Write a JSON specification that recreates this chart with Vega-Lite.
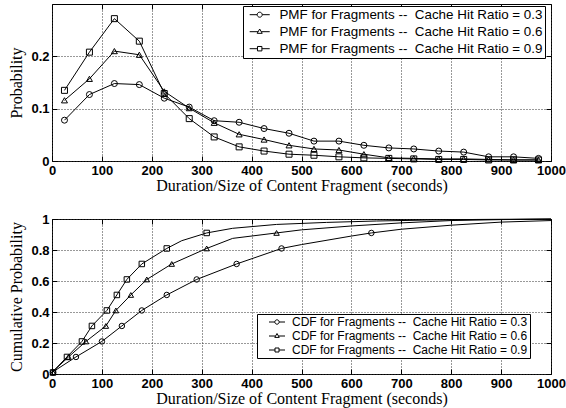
{
  "$schema": "https://vega.github.io/schema/vega-lite/v6.json",
  "padding": {"left": 8, "top": 3, "right": 4, "bottom": 2},
  "background": "white",
  "spacing": 18,
  "resolve": {"scale": {"shape": "independent"}, "legend": {"shape": "independent"}},
  "config": {
    "view": {"stroke": "black", "strokeWidth": 1},
    "axis": {
      "domain": false, "grid": true, "gridColor": "#333", "gridDash": [1, 2], "gridWidth": 1,
      "ticks": true, "tickColor": "black", "tickSize": -5, "tickWidth": 1,
      "labelFont": "Liberation Sans", "labelFontSize": 13, "labelFontWeight": "bold", "labelColor": "black",
      "labelPadding": 8, "labelFlush": false, "labelOverlap": false,
      "titleFont": "Liberation Serif", "titleFontSize": 16, "titleFontWeight": "normal", "titleColor": "black"
    },
    "axisX": {"titlePadding": 0},
    "axisY": {"titlePadding": 6},
    "legend": {
      "orient": "none", "title": null, "labelFont": "Liberation Sans", "labelColor": "black", "labelLimit": 0,
      "strokeColor": "black", "fillColor": "white", "padding": 2, "rowPadding": 2
    }
  },
  "datasets": {
    "pmf": [
      {"x": 25, "p": 0.078, "ratio": "0.3"}, {"x": 75, "p": 0.127, "ratio": "0.3"}, {"x": 125, "p": 0.148, "ratio": "0.3"}, {"x": 175, "p": 0.146, "ratio": "0.3"},
      {"x": 225, "p": 0.120, "ratio": "0.3"}, {"x": 275, "p": 0.103, "ratio": "0.3"}, {"x": 325, "p": 0.077, "ratio": "0.3"}, {"x": 375, "p": 0.074, "ratio": "0.3"},
      {"x": 425, "p": 0.062, "ratio": "0.3"}, {"x": 475, "p": 0.053, "ratio": "0.3"}, {"x": 525, "p": 0.038, "ratio": "0.3"}, {"x": 575, "p": 0.038, "ratio": "0.3"},
      {"x": 625, "p": 0.030, "ratio": "0.3"}, {"x": 675, "p": 0.025, "ratio": "0.3"}, {"x": 725, "p": 0.023, "ratio": "0.3"}, {"x": 775, "p": 0.019, "ratio": "0.3"},
      {"x": 825, "p": 0.017, "ratio": "0.3"}, {"x": 875, "p": 0.008, "ratio": "0.3"}, {"x": 925, "p": 0.008, "ratio": "0.3"}, {"x": 975, "p": 0.005, "ratio": "0.3"},
      {"x": 25, "p": 0.116, "ratio": "0.6"}, {"x": 75, "p": 0.157, "ratio": "0.6"}, {"x": 125, "p": 0.210, "ratio": "0.6"}, {"x": 175, "p": 0.203, "ratio": "0.6"},
      {"x": 225, "p": 0.133, "ratio": "0.6"}, {"x": 275, "p": 0.101, "ratio": "0.6"}, {"x": 325, "p": 0.073, "ratio": "0.6"}, {"x": 375, "p": 0.051, "ratio": "0.6"},
      {"x": 425, "p": 0.041, "ratio": "0.6"}, {"x": 475, "p": 0.030, "ratio": "0.6"}, {"x": 525, "p": 0.023, "ratio": "0.6"}, {"x": 575, "p": 0.021, "ratio": "0.6"},
      {"x": 625, "p": 0.013, "ratio": "0.6"}, {"x": 675, "p": 0.006, "ratio": "0.6"}, {"x": 725, "p": 0.005, "ratio": "0.6"}, {"x": 775, "p": 0.004, "ratio": "0.6"},
      {"x": 825, "p": 0.004, "ratio": "0.6"}, {"x": 875, "p": 0.003, "ratio": "0.6"}, {"x": 925, "p": 0.002, "ratio": "0.6"}, {"x": 975, "p": 0.002, "ratio": "0.6"},
      {"x": 25, "p": 0.135, "ratio": "0.9"}, {"x": 75, "p": 0.208, "ratio": "0.9"}, {"x": 125, "p": 0.272, "ratio": "0.9"}, {"x": 175, "p": 0.229, "ratio": "0.9"},
      {"x": 225, "p": 0.129, "ratio": "0.9"}, {"x": 275, "p": 0.081, "ratio": "0.9"}, {"x": 325, "p": 0.046, "ratio": "0.9"}, {"x": 375, "p": 0.027, "ratio": "0.9"},
      {"x": 425, "p": 0.019, "ratio": "0.9"}, {"x": 475, "p": 0.013, "ratio": "0.9"}, {"x": 525, "p": 0.011, "ratio": "0.9"}, {"x": 575, "p": 0.008, "ratio": "0.9"},
      {"x": 625, "p": 0.006, "ratio": "0.9"}, {"x": 675, "p": 0.005, "ratio": "0.9"}, {"x": 725, "p": 0.004, "ratio": "0.9"}, {"x": 775, "p": 0.003, "ratio": "0.9"},
      {"x": 825, "p": 0.003, "ratio": "0.9"}, {"x": 875, "p": 0.002, "ratio": "0.9"}, {"x": 925, "p": 0.002, "ratio": "0.9"}, {"x": 975, "p": 0.002, "ratio": "0.9"}
    ],
    "cdfLine": [
      {"x": 0, "c": 0.01, "ratio": "0.3"}, {"x": 48, "c": 0.11, "ratio": "0.3"}, {"x": 100, "c": 0.21, "ratio": "0.3"}, {"x": 140, "c": 0.31, "ratio": "0.3"},
      {"x": 180, "c": 0.41, "ratio": "0.3"}, {"x": 230, "c": 0.51, "ratio": "0.3"}, {"x": 290, "c": 0.61, "ratio": "0.3"}, {"x": 370, "c": 0.71, "ratio": "0.3"},
      {"x": 460, "c": 0.81, "ratio": "0.3"}, {"x": 500, "c": 0.835, "ratio": "0.3"}, {"x": 600, "c": 0.89, "ratio": "0.3"}, {"x": 640, "c": 0.91, "ratio": "0.3"},
      {"x": 700, "c": 0.934, "ratio": "0.3"}, {"x": 800, "c": 0.96, "ratio": "0.3"}, {"x": 900, "c": 0.98, "ratio": "0.3"}, {"x": 1000, "c": 0.99, "ratio": "0.3"},
      {"x": 0, "c": 0.01, "ratio": "0.6"}, {"x": 33, "c": 0.11, "ratio": "0.6"}, {"x": 68, "c": 0.21, "ratio": "0.6"}, {"x": 108, "c": 0.31, "ratio": "0.6"},
      {"x": 128, "c": 0.41, "ratio": "0.6"}, {"x": 158, "c": 0.51, "ratio": "0.6"}, {"x": 190, "c": 0.61, "ratio": "0.6"}, {"x": 240, "c": 0.71, "ratio": "0.6"},
      {"x": 310, "c": 0.81, "ratio": "0.6"}, {"x": 362, "c": 0.875, "ratio": "0.6"}, {"x": 450, "c": 0.91, "ratio": "0.6"}, {"x": 500, "c": 0.93, "ratio": "0.6"},
      {"x": 600, "c": 0.955, "ratio": "0.6"}, {"x": 700, "c": 0.975, "ratio": "0.6"}, {"x": 800, "c": 0.99, "ratio": "0.6"}, {"x": 900, "c": 0.996, "ratio": "0.6"},
      {"x": 1000, "c": 1.0, "ratio": "0.6"},
      {"x": 0, "c": 0.01, "ratio": "0.9"}, {"x": 30, "c": 0.11, "ratio": "0.9"}, {"x": 60, "c": 0.21, "ratio": "0.9"}, {"x": 80, "c": 0.31, "ratio": "0.9"},
      {"x": 110, "c": 0.41, "ratio": "0.9"}, {"x": 130, "c": 0.51, "ratio": "0.9"}, {"x": 150, "c": 0.61, "ratio": "0.9"}, {"x": 180, "c": 0.71, "ratio": "0.9"},
      {"x": 230, "c": 0.81, "ratio": "0.9"}, {"x": 260, "c": 0.86, "ratio": "0.9"}, {"x": 310, "c": 0.91, "ratio": "0.9"}, {"x": 362, "c": 0.94, "ratio": "0.9"},
      {"x": 450, "c": 0.965, "ratio": "0.9"}, {"x": 550, "c": 0.978, "ratio": "0.9"}, {"x": 650, "c": 0.987, "ratio": "0.9"}, {"x": 750, "c": 0.993, "ratio": "0.9"},
      {"x": 850, "c": 0.997, "ratio": "0.9"}, {"x": 1000, "c": 1.0, "ratio": "0.9"}
    ],
    "cdfMarkers": [
      {"x": 2, "c": 0.01, "ratio": "0.3"}, {"x": 48, "c": 0.11, "ratio": "0.3"}, {"x": 100, "c": 0.21, "ratio": "0.3"}, {"x": 140, "c": 0.31, "ratio": "0.3"},
      {"x": 180, "c": 0.41, "ratio": "0.3"}, {"x": 230, "c": 0.51, "ratio": "0.3"}, {"x": 290, "c": 0.61, "ratio": "0.3"}, {"x": 370, "c": 0.71, "ratio": "0.3"},
      {"x": 460, "c": 0.81, "ratio": "0.3"}, {"x": 640, "c": 0.91, "ratio": "0.3"},
      {"x": 2, "c": 0.01, "ratio": "0.6"}, {"x": 33, "c": 0.11, "ratio": "0.6"}, {"x": 68, "c": 0.21, "ratio": "0.6"}, {"x": 108, "c": 0.31, "ratio": "0.6"},
      {"x": 128, "c": 0.41, "ratio": "0.6"}, {"x": 158, "c": 0.51, "ratio": "0.6"}, {"x": 190, "c": 0.61, "ratio": "0.6"}, {"x": 240, "c": 0.71, "ratio": "0.6"},
      {"x": 310, "c": 0.81, "ratio": "0.6"}, {"x": 450, "c": 0.91, "ratio": "0.6"},
      {"x": 2, "c": 0.01, "ratio": "0.9"}, {"x": 30, "c": 0.11, "ratio": "0.9"}, {"x": 60, "c": 0.21, "ratio": "0.9"}, {"x": 80, "c": 0.31, "ratio": "0.9"},
      {"x": 110, "c": 0.41, "ratio": "0.9"}, {"x": 130, "c": 0.51, "ratio": "0.9"}, {"x": 150, "c": 0.61, "ratio": "0.9"}, {"x": 180, "c": 0.71, "ratio": "0.9"},
      {"x": 230, "c": 0.81, "ratio": "0.9"}, {"x": 310, "c": 0.91, "ratio": "0.9"}
    ]
  },
  "vconcat": [
    {
      "width": 499, "height": 157,
      "data": {"name": "pmf"},
      "layer": [
        {
          "mark": {"type": "line", "color": "black", "strokeWidth": 1},
          "encoding": {
            "x": {"field": "x", "type": "quantitative", "scale": {"domain": [0, 1000], "nice": false},
                  "axis": {"values": [0, 100, 200, 300, 400, 500, 600, 700, 800, 900, 1000], "format": "d", "title": "Duration/Size of Content Fragment (seconds)"}},
            "y": {"field": "p", "type": "quantitative", "scale": {"domain": [0, 0.3], "nice": false},
                  "axis": {"values": [0, 0.1, 0.2], "format": "~g", "title": "Probability"}},
            "detail": {"field": "ratio", "type": "nominal"}
          }
        },
        {
          "mark": {"type": "point", "filled": false, "color": "black", "size": 36, "strokeWidth": 1, "opacity": 1},
          "encoding": {
            "x": {"field": "x", "type": "quantitative", "axis": null},
            "y": {"field": "p", "type": "quantitative", "axis": null},
            "shape": {"field": "ratio", "type": "nominal",
              "scale": {"domain": ["0.3", "0.6", "0.9"], "range": ["circle", "triangle-up", "square"]},
              "legend": null}
          }
        },
        {
          "transform": [{"filter": "false"}],
          "mark": {"type": "point", "filled": false, "color": "black", "size": 144, "strokeWidth": 1, "opacity": 1},
          "encoding": {
            "x": {"field": "x", "type": "quantitative", "axis": null},
            "y": {"field": "p", "type": "quantitative", "axis": null},
            "shape": {"field": "ratio", "type": "nominal",
              "scale": {"domain": ["0.3", "0.6", "0.9"], "range": [
                "M-1.67,0H-0.42M0.42,0H1.67M0.42,0A0.42,0.42,0,1,1,-0.42,0A0.42,0.42,0,1,1,0.42,0Z",
                "M-1.67,0H-0.28M0.28,0H1.67M0,-0.45L0.42,0.27L-0.42,0.27Z",
                "M-1.67,0H-0.37M0.37,0H1.67M-0.37,-0.37H0.37V0.37H-0.37Z"]},
              "legend": {
                "legendX": 191, "legendY": 2, "labelFontSize": 13.4, "symbolSize": 144, "symbolOffset": 8, "labelOffset": 13,
                "symbolStrokeColor": "black", "symbolFillColor": "transparent", "symbolStrokeWidth": 1,
                "labelExpr": "'PMF for Fragments --\u00a0 Cache Hit Ratio = ' + datum.label"
              }
            }
          }
        },
        {
          "mark": {"type": "point", "opacity": 0},
          "encoding": {
            "x": {"field": "x", "type": "quantitative", "axis": {"orient": "top", "labels": false, "grid": false, "title": null, "values": [0, 100, 200, 300, 400, 500, 600, 700, 800, 900, 1000]}},
            "y": {"field": "p", "type": "quantitative", "axis": {"orient": "right", "labels": false, "grid": false, "title": null, "values": [0, 0.1, 0.2]}}
          }
        }
      ],
      "resolve": {"axis": {"x": "independent", "y": "independent"}, "scale": {"shape": "independent"}}
    },
    {
      "width": 499, "height": 155,
      "layer": [
        {
          "data": {"name": "cdfLine"},
          "mark": {"type": "line", "color": "black", "strokeWidth": 1},
          "encoding": {
            "x": {"field": "x", "type": "quantitative", "scale": {"domain": [0, 1000], "nice": false},
                  "axis": {"values": [0, 100, 200, 300, 400, 500, 600, 700, 800, 900, 1000], "format": "d", "title": "Duration/Size of Content Fragment (seconds)"}},
            "y": {"field": "c", "type": "quantitative", "scale": {"domain": [0, 1], "nice": false},
                  "axis": {"values": [0, 0.2, 0.4, 0.6, 0.8, 1], "format": "~g", "title": "Cumulative Probability"}},
            "detail": {"field": "ratio", "type": "nominal"}
          }
        },
        {
          "data": {"name": "cdfMarkers"},
          "mark": {"type": "point", "filled": false, "color": "black", "size": 30, "strokeWidth": 1, "opacity": 1},
          "encoding": {
            "x": {"field": "x", "type": "quantitative", "axis": null},
            "y": {"field": "c", "type": "quantitative", "axis": null},
            "shape": {"field": "ratio", "type": "nominal",
              "scale": {"domain": ["0.3", "0.6", "0.9"], "range": ["circle", "triangle-up", "square"]},
              "legend": null}
          }
        },
        {
          "data": {"name": "cdfMarkers"},
          "transform": [{"filter": "false"}],
          "mark": {"type": "point", "filled": false, "color": "black", "size": 100, "strokeWidth": 1, "opacity": 1},
          "encoding": {
            "x": {"field": "x", "type": "quantitative", "axis": null},
            "y": {"field": "c", "type": "quantitative", "axis": null},
            "shape": {"field": "ratio", "type": "nominal",
              "scale": {"domain": ["0.3", "0.6", "0.9"], "range": [
                "M-1.6,0H-0.44M0.44,0H1.6M0.44,0A0.44,0.44,0,1,1,-0.44,0A0.44,0.44,0,1,1,0.44,0Z",
                "M-1.6,0H-0.3M0.3,0H1.6M0,-0.5L0.45,0.28L-0.45,0.28Z",
                "M-1.6,0H-0.4M0.4,0H1.6M-0.4,-0.4H0.4V0.4H-0.4Z"]},
              "legend": {
                "legendX": 205, "legendY": 95, "labelFontSize": 12, "symbolSize": 100, "symbolOffset": 12, "labelOffset": 9,
                "symbolStrokeColor": "black", "symbolFillColor": "transparent", "symbolStrokeWidth": 1,
                "labelExpr": "'CDF for Fragments --\u00a0 Cache Hit Ratio = ' + datum.label"
              }
            }
          }
        },
        {
          "data": {"name": "cdfLine"},
          "mark": {"type": "point", "opacity": 0},
          "encoding": {
            "x": {"field": "x", "type": "quantitative", "axis": {"orient": "top", "labels": false, "grid": false, "title": null, "values": [0, 100, 200, 300, 400, 500, 600, 700, 800, 900, 1000]}},
            "y": {"field": "c", "type": "quantitative", "axis": {"orient": "right", "labels": false, "grid": false, "title": null, "values": [0, 0.2, 0.4, 0.6, 0.8, 1]}}
          }
        }
      ],
      "resolve": {"axis": {"x": "independent", "y": "independent"}, "scale": {"shape": "independent"}}
    }
  ]
}
